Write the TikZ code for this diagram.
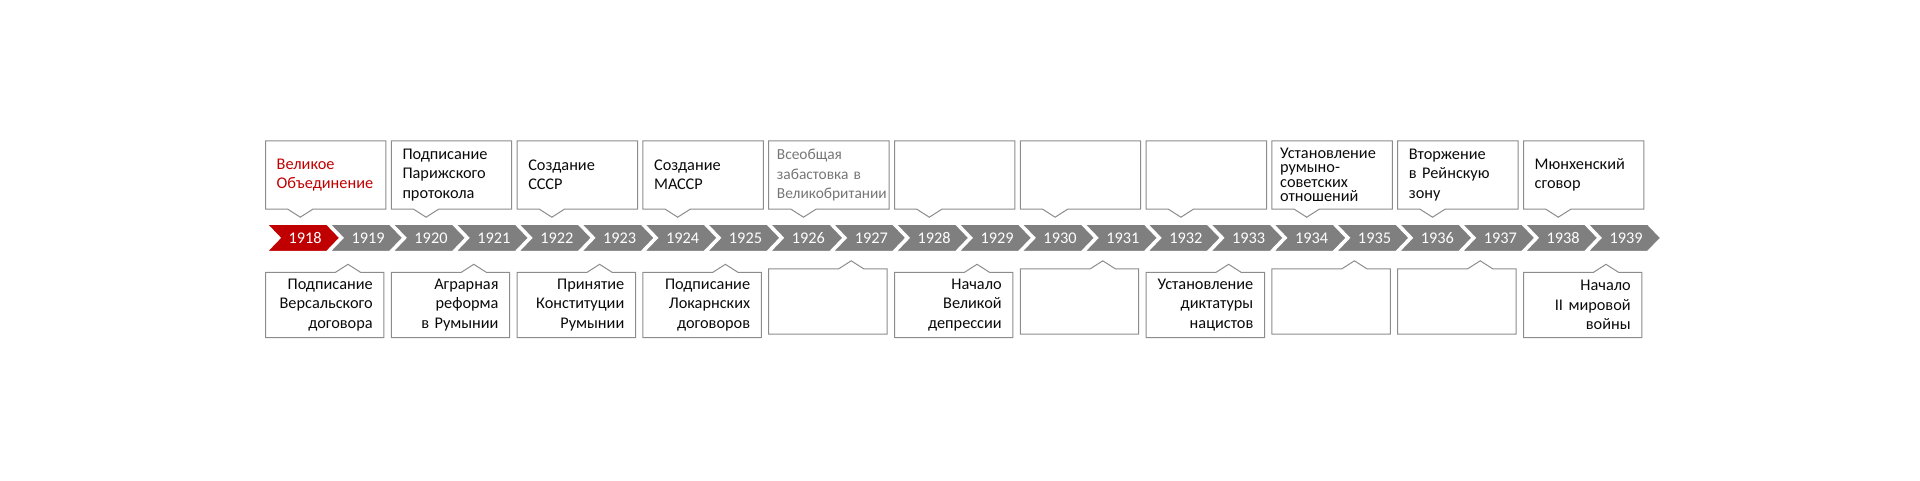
\documentclass[tikz,border=0pt]{standalone}
\usepackage{fontspec}
\setmainfont{Carlito}
\usetikzlibrary{positioning,calc}
\definecolor{chevgray}{RGB}{127,127,127}
\definecolor{hot}{RGB}{192,0,0}
\definecolor{frameg}{RGB}{140,140,140}
\definecolor{ink}{RGB}{10,10,10}
\definecolor{muted}{RGB}{118,118,118}
\newcommand\tightlines{\fontsize{16.3}{14.4}\selectfont\lineskiplimit=-8pt\relax}

\begin{document}
\begin{tikzpicture}[
  x=1pt, y=-1pt,
  font=\fontsize{16.3}{19.2}\selectfont,
  chev/.style={fill=chevgray, draw=white, line width=1.5pt, line join=miter},
  yr/.style={text=white, inner sep=0pt},
  evt/.style={inner xsep=11pt, inner ysep=0pt, text=ink},
  up/.style={evt, text width=98pt, minimum height=68pt, align=left},
  down/.style={evt, text width=96pt, minimum height=65pt, align=right},
  frame/.style={draw=frameg, line width=1pt, line join=miter},
]
\useasboundingbox (0,0) rectangle (1920,480);

% year chevrons
\foreach \yr [count=\i from 0] in {1918,...,1939} {
  \draw[chev] (266.7+62.9*\i,224) -- ++(60,0) -- ++(13.3,13.85) -- ++(-13.3,13.85)
    -- ++(-60,0) -- ++(13.3,-13.85) -- cycle;
}
\draw[chev, fill=hot] (266.7,224) -- ++(60,0) -- ++(13.3,13.85) -- ++(-13.3,13.85)
    -- ++(-60,0) -- ++(13.3,-13.85) -- cycle;
\foreach \yr [count=\i from 0] in {1918,...,1939}
  \node[yr] (y\yr) at (305.2+62.9*\i,237.85) {\yr};

% events above the line
\node[up, text=hot] (e1918) at (325.7,175) {Великое\\Объединение};
\node[up] (e1920) at (451.5,175) {Подписание\\Парижского\\протокола};
\node[up] (e1922) at (577.3,175) {Создание\\СССР};
\node[up] (e1924) at (703.1,175) {Создание\\МАССР};
\node[up, text=muted, inner xsep=8pt, text width=104pt, font=\fontsize{15.4}{19.2}\selectfont]
  (e1926) at (828.9,175) {Всеобщая\\забастовка в\\Великобритании};
\node[up] (e1928) at (954.7,175) {};
\node[up] (e1930) at (1080.5,175) {};
\node[up] (e1932) at (1206.3,175) {};
\node[up, inner xsep=8pt, text width=104pt, font=\tightlines] (e1934) at (1332.1,175)
  {Установление\\румыно-\\советских\\отношений};
\node[up] (e1936) at (1457.9,175) {Вторжение\\в Рейнскую\\зону};
\node[up] (e1938) at (1583.7,175) {Мюнхенский\\сговор};

% events below the line
\node[down] (e1919) at (324.7,305) {Подписание\\Версальского\\договора};
\node[down] (e1921) at (450.5,305) {Аграрная\\реформа\\в Румынии};
\node[down] (e1923) at (576.3,305) {Принятие\\Конституции\\Румынии};
\node[down] (e1925) at (702.1,305) {Подписание\\Локарнских\\договоров};
\node[down] (e1927) at (827.9,301.5) {};
\node[down] (e1929) at (953.7,305) {Начало\\Великой\\депрессии};
\node[down] (e1931) at (1079.5,301.5) {};
\node[down] (e1933) at (1205.3,305) {Установление\\диктатуры\\нацистов};
\node[down] (e1935) at (1331.1,301.5) {};
\node[down] (e1937) at (1456.9,301.5) {};
\node[down] (e1939) at (1582.7,305) {Начало\\II мировой\\войны};

% callout frames
\foreach \n in {e1918,e1920,e1922,e1924,e1926,e1928,e1930,e1932,e1934,e1936,e1938}
  \draw[frame] (\n.south west) -- ++(22.3,0) -- ++(12.5,8)
    -- ++(12.5,-8) -| (\n.north east) -- (\n.north west) -- cycle;
\foreach \n in {e1919,e1921,e1923,e1925,e1927,e1929,e1931,e1933,e1935,e1937,e1939}
  \draw[frame] (\n.north west) -- ++(70,0) -- ++(12.5,-8) -- ++(12.5,8)
    -| (\n.south east) -- (\n.south west) -- cycle;
\end{tikzpicture}
\end{document}
